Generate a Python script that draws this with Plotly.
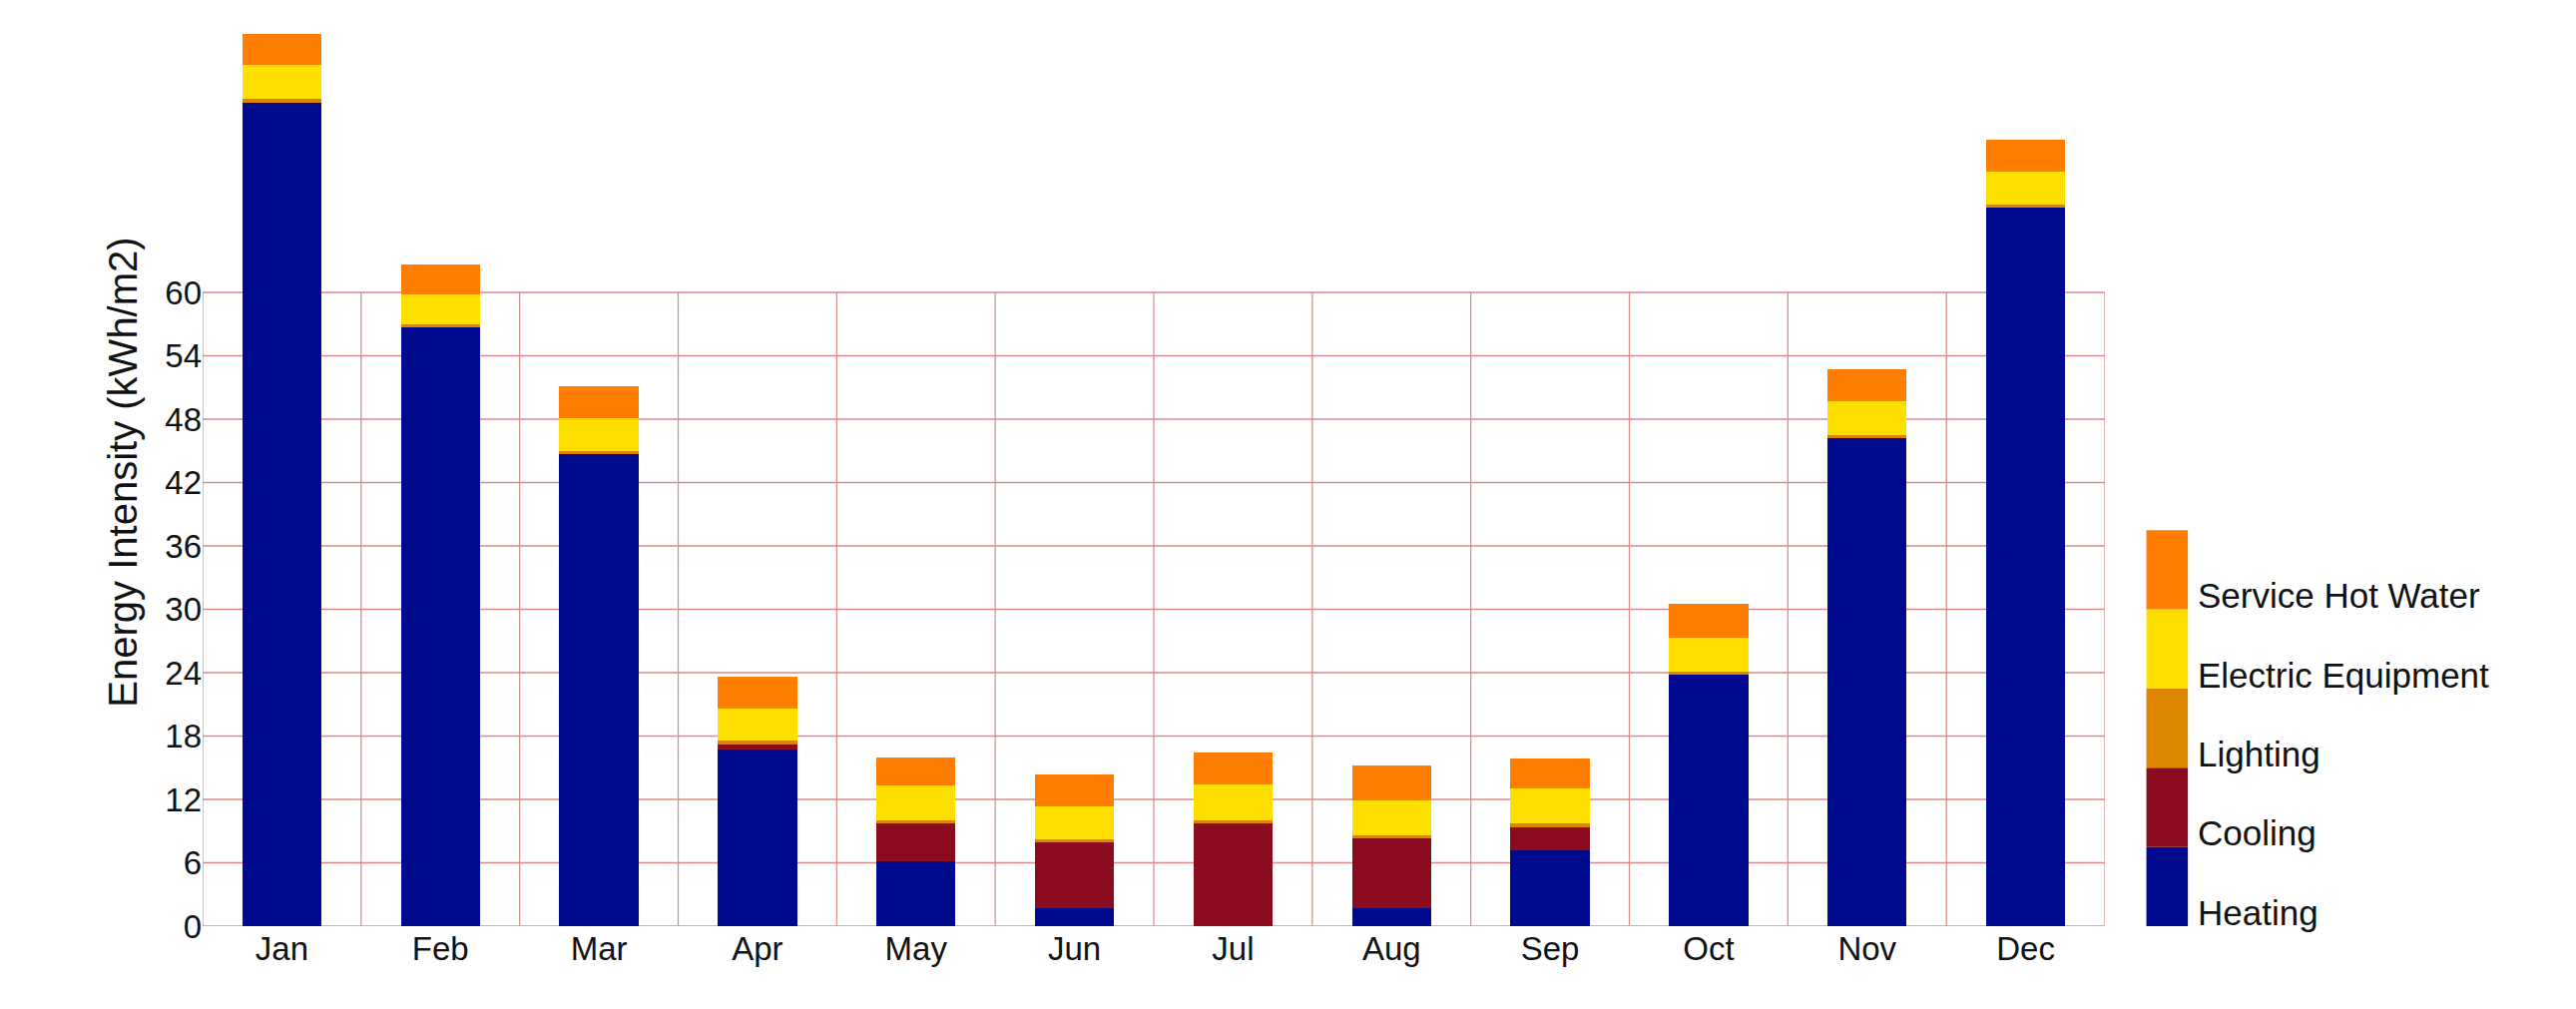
import plotly.graph_objects as go

months = ["Jan","Feb","Mar","Apr","May","Jun","Jul","Aug","Sep","Oct","Nov","Dec"]
heating  = [78.0, 56.7, 44.7, 16.7, 6.1, 1.7, 0.0, 1.7, 7.2, 23.8, 46.2, 68.0]
cooling  = [0.0, 0.0, 0.0, 0.5, 3.6, 6.2, 9.7, 6.6, 2.2, 0.0, 0.0, 0.0]
lighting = [0.3, 0.3, 0.3, 0.4, 0.3, 0.3, 0.3, 0.3, 0.3, 0.3, 0.3, 0.3]
electric = [3.3, 2.8, 3.1, 3.0, 3.3, 3.1, 3.4, 3.3, 3.3, 3.2, 3.2, 3.1]
hotwater = [2.9, 2.9, 3.0, 3.0, 2.7, 3.1, 3.0, 3.3, 2.9, 3.2, 3.0, 3.1]
series = [("Heating", heating, "#000A8E"), ("Cooling", cooling, "#8A0C1E"),
          ("Lighting", lighting, "#DE8500"), ("Electric Equipment", electric, "#FFDF00"),
          ("Service Hot Water", hotwater, "#FF7E00")]
yticks = [0, 6, 12, 18, 24, 30, 36, 42, 48, 54, 60]

fig = go.Figure()
for name, vals, col in series:
    fig.add_trace(go.Bar(x=list(range(12)), y=vals, name=name, marker_color=col,
                         marker_line_width=0, width=0.5))

gc = "#D98A8A"
shapes = []
for t in yticks:
    shapes.append(dict(type="line", xref="x", yref="y", x0=-0.5, x1=11.5, y0=t, y1=t,
                       line=dict(color=gc, width=1.5), layer="below"))
for i in range(13):
    shapes.append(dict(type="line", xref="x", yref="y", x0=i-0.5, x1=i-0.5, y0=0, y1=60,
                       line=dict(color=gc, width=1.2), layer="below"))
annots = []
for k, (name, vals, col) in enumerate(series):
    shapes.append(dict(type="rect", xref="paper", yref="y", x0=1.0218, x1=1.0436,
                       y0=7.5*k, y1=7.5*(k+1), fillcolor=col, line_width=0))
    annots.append(dict(xref="paper", yref="y", x=1.0478, y=7.5*k+1.3, text=name,
                       showarrow=False, xanchor="left", yanchor="middle",
                       font=dict(size=35, color="#111")))

fig.update_layout(
    width=2581, height=1011, barmode="stack", showlegend=False,
    plot_bgcolor="white", paper_bgcolor="white",
    margin=dict(l=195, r=480, t=10, b=91),
    font=dict(family="Liberation Sans, Arial", size=33, color="#111"),
    shapes=shapes, annotations=annots, bargap=0.5,
    xaxis=dict(tickvals=list(range(12)), ticktext=months, range=[-0.5, 11.5],
               showgrid=False, zeroline=False, showline=False, ticks=""),
    yaxis=dict(range=[0, 86], tickvals=yticks, showgrid=False, zeroline=False,
               title=dict(text="Energy Intensity (kWh/m2)", standoff=15), ticks=""),
)
fig.write_html("out.html")
